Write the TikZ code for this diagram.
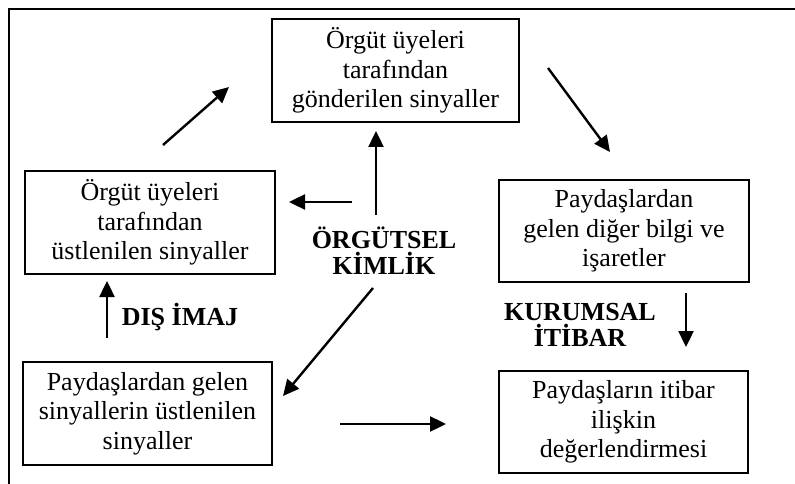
\documentclass[tikz,border=0pt]{standalone}
\usepackage{fontspec}
\setmainfont{Liberation Serif}
\usetikzlibrary{arrows.meta}
\begin{document}
\begin{tikzpicture}[x=1pt,y=-1pt,
  box/.style={draw,line width=2.8pt,align=center,inner sep=0pt,
    font=\fontsize{26}{29.5}\selectfont},
  lbl/.style={align=center,font=\bfseries\fontsize{26}{26}\selectfont},
  arr/.style={line width=2.4pt,-{Triangle[length=16pt,width=15pt]}}]
\useasboundingbox (0,0) rectangle (795,484);
\draw[line width=1.4pt] (9,484) -- (9,9) -- (795,9);
% boxes
\node[box,minimum width=247pt,minimum height=103pt] (top) at (395.5,70.5)
  {Örgüt üyeleri\\tarafından\\gönderilen sinyaller};
\node[box,minimum width=250pt,minimum height=103pt] (left) at (150,222.5)
  {Örgüt üyeleri\\tarafından\\üstlenilen sinyaller};
\node[box,minimum width=250pt,minimum height=102pt] (right) at (624,231)
  {Paydaşlardan\\gelen diğer bilgi ve\\işaretler};
\node[box,minimum width=249pt,minimum height=103pt] (bl) at (147.5,413.5)
  {Paydaşlardan gelen\\sinyallerin üstlenilen\\sinyaller};
\node[box,minimum width=249pt,minimum height=102pt] (br) at (623.5,422)
  {Paydaşların itibar\\ilişkin\\değerlendirmesi};
% labels
\node[lbl] (ok) at (384,251) {ÖRGÜTSEL\\KİMLİK};
\node[lbl] (dis) at (180,317) {DIŞ İMAJ};
\node[lbl] (ki) at (580,325) {KURUMSAL\\İTİBAR};
% arrow end points
\coordinate (a1) at (163,145); \coordinate (a2) at (229,87);
\coordinate (b1) at (548,68);  \coordinate (b2) at (610,152);
\coordinate (c1) at (376,215); \coordinate (c2) at (376,131);
\coordinate (d1) at (352,202); \coordinate (d2) at (289,202);
\coordinate (e1) at (107,338); \coordinate (e2) at (107,281);
\coordinate (f1) at (373,288); \coordinate (f2) at (283,396);
\coordinate (g1) at (340,424); \coordinate (g2) at (446,424);
\coordinate (h1) at (686,293); \coordinate (h2) at (686,347);
\draw[arr] (a1) -- (a2);
\draw[arr] (b1) -- (b2);
\draw[arr] (c1) -- (c2);
\draw[arr] (d1) -- (d2);
\draw[arr] (e1) -- (e2);
\draw[arr] (f1) -- (f2);
\draw[arr] (g1) -- (g2);
\draw[arr] (h1) -- (h2);
\end{tikzpicture}
\end{document}
